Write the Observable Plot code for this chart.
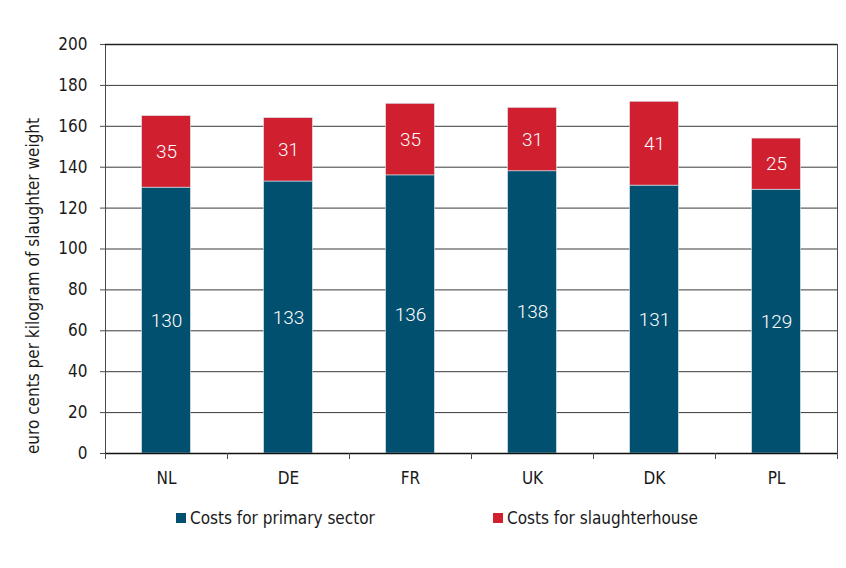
<!DOCTYPE html>
<html>
<head>
<meta charset="utf-8">
<script src="https://cdn.jsdelivr.net/npm/d3@7"></script>
<script src="https://cdn.jsdelivr.net/npm/@observablehq/plot@0.6"></script>
<style>
  html, body { margin: 0; padding: 0; background: #fff; }
  body { width: 846px; height: 568px; position: relative; overflow: hidden;
         font-family: "DejaVu Sans Condensed", "Liberation Sans", sans-serif; color: #1a1a1a; }
  #banner-left { position: absolute; left: 0; top: 0; width: 181px; height: 8px; background: #c0c0c0; }
  #banner-right { position: absolute; left: 181px; top: 0; right: 0; height: 4px; background: #e4e4e4; }
  #banner-under { position: absolute; left: 181px; top: 4px; right: 0; height: 4px; background: #c4c4c4; }
  #chart { position: absolute; left: 0; top: 0; }
  #ylabel { position: absolute; left: 33px; top: 286px; white-space: nowrap; font-size: 17px;
            transform: translate(-50%, -50%) rotate(-90deg); transform-origin: center; }
  #legend { position: absolute; top: 508px; left: 0; width: 846px; font-size: 17px; }
  .sw { position: absolute; display: flex; align-items: center; white-space: nowrap; }
  .sw span.box { display: inline-block; width: 10px; height: 10px; margin-right: 4px; }
</style>
</head>
<body>
<div id="banner-left"></div><div id="banner-right"></div><div id="banner-under"></div>
<div id="chart"></div>
<div id="ylabel"></div>
<div id="legend"></div>
<script>
const countries = ["NL", "DE", "FR", "UK", "DK", "PL"];
const seriesNames = ["Costs for primary sector", "Costs for slaughterhouse"];
const primaryCosts = [130, 133, 136, 138, 131, 129];
const slaughterCosts = [35, 31, 35, 31, 41, 25];
const seriesColors = ["#02506f", "#d01f2f"];
const yTicks = [0, 20, 40, 60, 80, 100, 120, 140, 160, 180, 200];
const yLabel = "euro cents per kilogram of slaughter weight";

const data = [];
countries.forEach((c, i) => {
  data.push({country: c, series: seriesNames[0], value: primaryCosts[i]});
  data.push({country: c, series: seriesNames[1], value: slaughterCosts[i]});
});

const W = 846, H = 492;
const mL = 105, mR = 9, mT = 44, mB = 39;
const step = (W - mL - mR) / countries.length;
const barInset = step * 0.3;

const chart = Plot.plot({
  width: W,
  height: H,
  marginLeft: mL,
  marginRight: mR,
  marginTop: mT,
  marginBottom: mB,
  style: {fontFamily: '"DejaVu Sans Condensed", "Liberation Sans", sans-serif', fontSize: "17px", color: "#1a1a1a", background: "white"},
  x: {type: "band", domain: countries, padding: 0},
  y: {domain: [0, 200]},
  color: {domain: seriesNames, range: seriesColors},
  marks: [
    Plot.gridY(yTicks.filter(t => t > 0 && t < 200), {stroke: "#3a3a3a", strokeOpacity: 1}),
    Plot.barY(data, Plot.stackY({x: "country", y: "value", fill: "series", insetLeft: barInset, insetRight: barInset, stroke: "#dbe8ee", strokeWidth: 0.6})),
    Plot.text(data, Plot.stackY({x: "country", y: "value", text: d => String(d.value), fill: "white", fontSize: 19, fontFamily: "Roboto, 'Open Sans', sans-serif", fontWeight: 300})),
    Plot.frame({stroke: "#4a4a4a"}),
    Plot.ruleY([0], {stroke: "#111", strokeWidth: 1.6}),
    Plot.ruleY([200], {stroke: "#222", strokeWidth: 1.4}),
    Plot.ruleX(countries, {x: d => d, dx: -step / 2, y1: 0, y2: 0, insetBottom: -6, stroke: "#4a4a4a"}),
    Plot.ruleX([countries[countries.length - 1]], {x: d => d, dx: step / 2, y1: 0, y2: 0, insetBottom: -6, stroke: "#4a4a4a"}),
    Plot.axisY({ticks: yTicks, tickSize: 5, tickPadding: 13, label: null, stroke: "#4a4a4a"}),
    Plot.axisX({tickSize: 0, tickPadding: 18, label: null})
  ]
});
document.getElementById("chart").appendChild(chart);
document.getElementById("ylabel").textContent = yLabel;

const legendPos = [176, 493];
const legend = document.getElementById("legend");
seriesNames.forEach((s, i) => {
  const el = document.createElement("div");
  el.className = "sw";
  el.style.left = legendPos[i] + "px";
  el.innerHTML = `<span class="box" style="background:${seriesColors[i]}"></span><span>${s}</span>`;
  legend.appendChild(el);
});
</script>
</body>
</html>
